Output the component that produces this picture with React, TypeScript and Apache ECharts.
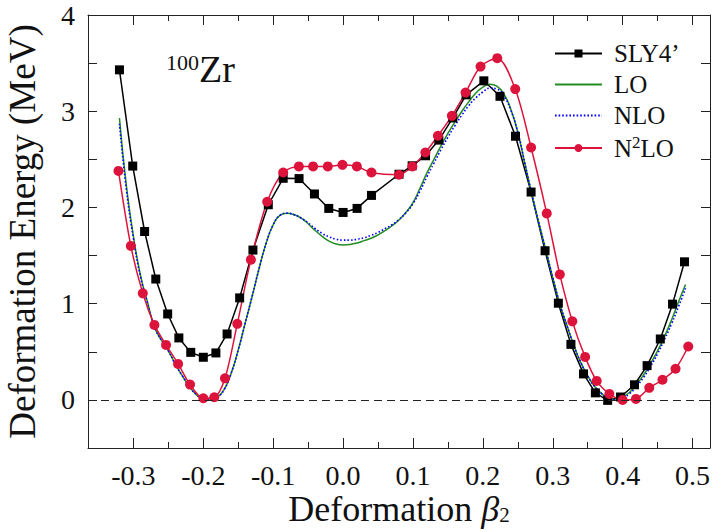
import React, { useEffect, useRef } from 'react';
import * as echarts from 'echarts';

const FONT = '"Liberation Serif", "Times New Roman", serif';

// SLY4' (black squares)
const slyBeta = [-0.32, -0.301, -0.284, -0.268, -0.251, -0.235, -0.218, -0.2, -0.182, -0.166, -0.148, -0.129, -0.107, -0.0857, -0.063, -0.041, -0.0205, 0, 0.02, 0.0406, 0.08, 0.0988, 0.118, 0.137, 0.157, 0.176, 0.2014, 0.2245, 0.2467, 0.269, 0.289, 0.308, 0.326, 0.344, 0.361, 0.3786, 0.397, 0.417, 0.435, 0.4539, 0.4714, 0.4885];
const slyEnergy = [3.43, 2.43, 1.75, 1.256, 0.893, 0.644, 0.494, 0.443, 0.488, 0.685, 1.06, 1.557, 2.028, 2.303, 2.3, 2.14, 1.99, 1.948, 1.99, 2.125, 2.345, 2.433, 2.537, 2.7, 2.93, 3.17, 3.316, 3.155, 2.74, 2.16, 1.55, 1.005, 0.577, 0.27, 0.073, -0.005, 0.03, 0.157, 0.356, 0.633, 0.995, 1.435];

// N2LO (red circles)
const n2loBeta = [-0.3214, -0.3037, -0.2866, -0.27, -0.2533, -0.2361, -0.219, -0.2, -0.1843, -0.169, -0.1514, -0.1319, -0.1086, -0.0857, -0.0633, -0.0429, -0.0219, -0.0009, 0.0197, 0.0406, 0.08, 0.0991, 0.1177, 0.1357, 0.1557, 0.1753, 0.1967, 0.2206, 0.2463, 0.269, 0.2914, 0.3101, 0.328, 0.3463, 0.3629, 0.381, 0.4, 0.419, 0.4381, 0.457, 0.4757, 0.4939];
const n2loEnergy = [2.38, 1.6, 1.107, 0.779, 0.571, 0.374, 0.159, 0.017, 0.027, 0.224, 0.79, 1.457, 2.059, 2.363, 2.426, 2.426, 2.426, 2.443, 2.426, 2.363, 2.34, 2.426, 2.571, 2.745, 2.952, 3.194, 3.464, 3.551, 3.23, 2.623, 1.938, 1.304, 0.816, 0.447, 0.197, 0.062, 0.0, 0.01, 0.125, 0.209, 0.324, 0.555];

// LO / NLO curves
const curveBeta = [-0.32, -0.31, -0.3, -0.29, -0.28, -0.27, -0.26, -0.25, -0.24, -0.23, -0.22, -0.21, -0.2, -0.19, -0.18, -0.17, -0.16, -0.15, -0.14, -0.13, -0.12, -0.11, -0.1, -0.09, -0.08, -0.07, -0.06, -0.05, -0.04, -0.03, -0.02, -0.01, 0, 0.01, 0.02, 0.03, 0.04, 0.05, 0.06, 0.07, 0.08, 0.09, 0.1, 0.11, 0.12, 0.13, 0.14, 0.15, 0.16, 0.17, 0.18, 0.19, 0.2, 0.21, 0.22, 0.23, 0.24, 0.25, 0.26, 0.27, 0.28, 0.29, 0.3, 0.31, 0.32, 0.33, 0.34, 0.35, 0.36, 0.37, 0.38, 0.39, 0.4, 0.41, 0.42, 0.43, 0.44, 0.45, 0.46, 0.47, 0.48, 0.49];
const loEnergy = [2.93, 2.22, 1.7, 1.3, 1.02, 0.76, 0.62, 0.51, 0.37, 0.25, 0.14, 0.055, 0.01, 0.0, 0.025, 0.11, 0.28, 0.52, 0.8, 1.08, 1.37, 1.63, 1.82, 1.92, 1.94, 1.925, 1.89, 1.83, 1.76, 1.7, 1.65, 1.62, 1.61, 1.615, 1.63, 1.655, 1.68, 1.715, 1.76, 1.81, 1.87, 1.95, 2.05, 2.2, 2.36, 2.5, 2.64, 2.77, 2.89, 3.0, 3.1, 3.19, 3.25, 3.28, 3.26, 3.18, 3.02, 2.78, 2.46, 2.14, 1.84, 1.56, 1.27, 1.0, 0.78, 0.57, 0.39, 0.25, 0.14, 0.065, 0.015, 0.0, 0.03, 0.08, 0.16, 0.26, 0.38, 0.51, 0.66, 0.83, 1.02, 1.2];
const nloEnergy = [2.87, 2.18, 1.68, 1.28, 1.01, 0.76, 0.62, 0.51, 0.37, 0.25, 0.14, 0.055, 0.01, 0.0, 0.025, 0.11, 0.28, 0.52, 0.8, 1.08, 1.37, 1.63, 1.82, 1.92, 1.94, 1.925, 1.89, 1.84, 1.78, 1.73, 1.695, 1.67, 1.66, 1.66, 1.67, 1.685, 1.71, 1.74, 1.78, 1.82, 1.875, 1.945, 2.04, 2.17, 2.32, 2.46, 2.6, 2.73, 2.85, 2.96, 3.06, 3.14, 3.2, 3.24, 3.23, 3.16, 3.01, 2.78, 2.46, 2.14, 1.84, 1.56, 1.27, 1.0, 0.78, 0.57, 0.39, 0.25, 0.14, 0.065, 0.015, 0.0, 0.02, 0.065, 0.14, 0.235, 0.35, 0.48, 0.63, 0.79, 0.97, 1.16];

const xMajorTicks = [-0.3, -0.2, -0.1, 0, 0.1, 0.2, 0.3, 0.4, 0.5];
const xMinorTicks = [-0.25, -0.15, -0.05, 0.05, 0.15, 0.25, 0.35, 0.45];

const seriesNames = ['SLY4’', 'LO', 'NLO', 'N2LO'];

export default function App() {
  const ref = useRef<HTMLDivElement>(null);
  useEffect(() => {
    const chart = echarts.init(ref.current as HTMLDivElement, null, { renderer: 'svg' });
    const pair = (xs: number[], ys: number[]) => xs.map((x, i) => [x, ys[i]]);
    const lineStyle = { color: '#222', width: 1 };
    const xCommon = { type: 'value', min: -0.365, max: 0.525, splitLine: { show: false }, gridIndex: 0 };
    const hiddenIcon = { color: 'rgba(0,0,0,0)', borderColor: 'rgba(0,0,0,0)', borderWidth: 0 };
    const option: any = {
      animation: false,
      grid: { left: 88, right: 13, top: 15, bottom: 84, containLabel: false, outerBoundsMode: 'none' },
      xAxis: [
        {
          ...xCommon, position: 'bottom',
          axisLine: { show: true, onZero: false, lineStyle },
          axisTick: { show: true, inside: true, length: 10, lineStyle, customValues: xMajorTicks },
          axisLabel: { show: true, customValues: xMajorTicks, formatter: (v: number) => v.toFixed(1), fontFamily: FONT, fontSize: 28, lineHeight: 27, color: '#111', margin: 14 },
          name: '{n|Deformation }{b|β}{s|2}', nameLocation: 'middle', nameGap: 44, nameMoveOverlap: false,
          nameTextStyle: { rich: {
            n: { fontFamily: FONT, fontSize: 36, color: '#111', lineHeight: 34 },
            b: { fontFamily: FONT, fontSize: 36, fontStyle: 'italic', color: '#111', lineHeight: 34 },
            s: { fontFamily: FONT, fontSize: 21, color: '#111', lineHeight: 20, padding: [12, 0, 0, 0] },
          } },
        },
        {
          ...xCommon, position: 'bottom',
          axisLine: { show: false, onZero: false },
          axisTick: { show: true, inside: true, length: 6, lineStyle, customValues: xMinorTicks },
          axisLabel: { show: false },
        },
        {
          ...xCommon, position: 'top',
          axisLine: { show: true, onZero: false, lineStyle },
          axisTick: { show: true, inside: true, length: 10, lineStyle, customValues: xMajorTicks },
          axisLabel: { show: false },
        },
        {
          ...xCommon, position: 'top',
          axisLine: { show: false, onZero: false },
          axisTick: { show: true, inside: true, length: 6, lineStyle, customValues: xMinorTicks },
          axisLabel: { show: false },
        },
      ],
      yAxis: [
        {
          type: 'value', min: -0.5, max: 4, interval: 0.5, position: 'left',
          splitLine: { show: false },
          axisLine: { show: true, onZero: false, lineStyle },
          axisTick: { show: true, inside: true, length: 9, lineStyle },
          axisLabel: {
            fontFamily: FONT, fontSize: 28, color: '#111', margin: 13,
            formatter: (v: number) => (Math.abs(v - Math.round(v)) < 1e-9 ? String(Math.round(v)) : ''),
          },
          name: 'Deformation Energy (MeV)', nameLocation: 'middle', nameGap: 47, nameMoveOverlap: false,
          nameTextStyle: { fontFamily: FONT, fontSize: 37, color: '#111' },
        },
        {
          type: 'value', min: -0.5, max: 4, interval: 0.5, position: 'right',
          splitLine: { show: false },
          axisLine: { show: true, onZero: false, lineStyle },
          axisTick: { show: true, inside: true, length: 9, lineStyle },
          axisLabel: { show: false },
        },
      ],
      legend: {
        orient: 'vertical', left: 554, top: 41, padding: 0, itemWidth: 47, itemHeight: 10, itemGap: 6,
        data: [
          { name: seriesNames[0] },
          { name: seriesNames[1], itemStyle: hiddenIcon },
          { name: seriesNames[2], itemStyle: hiddenIcon },
          { name: seriesNames[3] },
        ],
        textStyle: {
          fontFamily: FONT, fontSize: 25, color: '#111', lineHeight: 25, padding: [0, 0, 0, 7],
          rich: {
            n: { fontFamily: FONT, fontSize: 25, color: '#111', lineHeight: 25 },
            s: { fontFamily: FONT, fontSize: 17, color: '#111', padding: [0, 0, 11, 0] },
          },
        },
        formatter: (name: string) => (name === 'N2LO' ? '{n|N}{s|2}{n|LO}' : '{n|' + name + '}'),
      },
      graphic: [
        {
          type: 'text', left: 166, top: 50,
          style: {
            text: '{s|100}{z|Zr}',
            rich: {
              s: { fontFamily: FONT, fontSize: 22, fill: '#111', padding: [0, 0, 14, 0] },
              z: { fontFamily: FONT, fontSize: 38, fill: '#111' },
            },
          },
        },
      ],
      series: [
        {
          name: seriesNames[0], type: 'line', data: pair(slyBeta, slyEnergy),
          symbol: 'rect', symbolSize: 9, showAllSymbol: true,
          itemStyle: { color: '#000' }, lineStyle: { color: '#000', width: 1.5 },
          markLine: {
            silent: true, symbol: ['none', 'none'], label: { show: false },
            lineStyle: { color: '#222', width: 1, type: [8, 5] },
            data: [{ yAxis: 0 }],
          },
        },
        {
          name: seriesNames[1], type: 'line', data: pair(curveBeta, loEnergy),
          symbol: 'none', smooth: true,
          itemStyle: { color: '#228b22' }, lineStyle: { color: '#228b22', width: 1.5 },
        },
        {
          name: seriesNames[2], type: 'line', data: pair(curveBeta, nloEnergy),
          symbol: 'none', smooth: true,
          itemStyle: { color: '#0000ff' }, lineStyle: { color: '#0000ff', width: 1.6, type: [1.6, 2] },
        },
        {
          name: seriesNames[3], type: 'line', data: pair(n2loBeta, n2loEnergy),
          symbol: 'circle', symbolSize: 10, showAllSymbol: true, smooth: 0.3,
          itemStyle: { color: '#dc143c' }, lineStyle: { color: '#dc143c', width: 1.5 },
        },
      ],
    };
    chart.setOption(option);
    return () => chart.dispose();
  }, []);
  return <div ref={ref} style={{ position: 'fixed', left: 0, top: 0, width: 723, height: 532, background: '#fff' }} />;
}
